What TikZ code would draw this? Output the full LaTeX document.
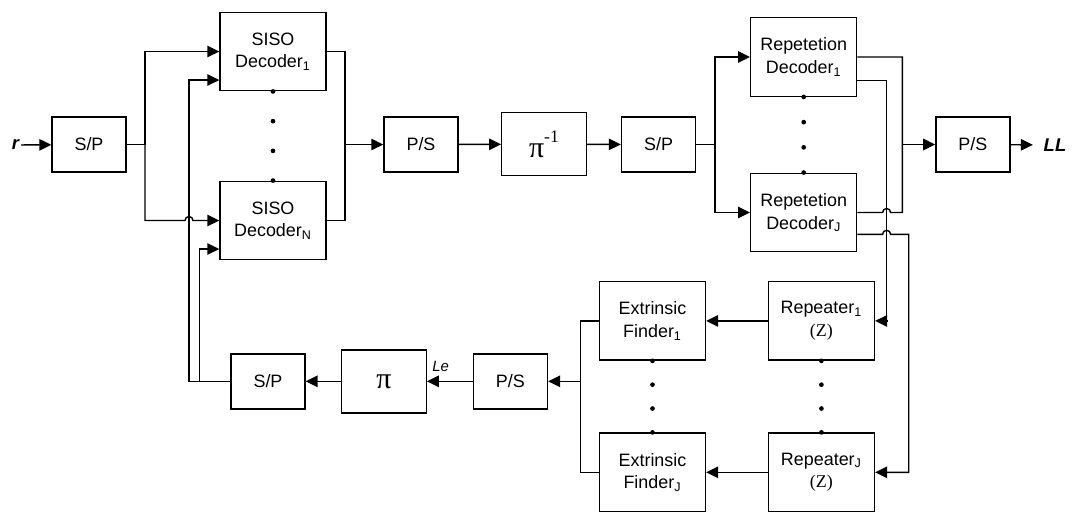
\documentclass[tikz,border=0pt]{standalone}
\usepackage{fontspec}
\setmainfont{Liberation Sans}
\newfontfamily\greekfont{Liberation Serif}
\usetikzlibrary{calc,arrows.meta}
\def\dotcol(#1)(#2){\foreach \t in {0,1/3,2/3,1} \fill ($(#1)!\t!(#2)$) circle (0.047cm);}

\tikzset{
	blk/.style={draw, line width=0.8pt, inner sep=0pt, align=center, font=\fontsize{10.2}{13}\selectfont},
	spbox/.style={blk, minimum width=1.48cm, minimum height=1.1cm},
	bigbox/.style={blk, minimum width=2.12cm, minimum height=1.57cm},
	pibox/.style={blk, minimum width=1.69cm, minimum height=1.26cm, font=\greekfont\fontsize{17}{17}\selectfont},
	wire/.style={line width=0.8pt},
	sig/.style={wire, -{Triangle[length=0.24cm,width=0.23cm]}},
}

\begin{document}
\begin{tikzpicture}[x=0.02cm, y=-0.02cm]
			%%%%% START %%%%%
			\useasboundingbox (0,0) rectangle (1075,512);
			
			\node[inner sep=1pt, font=\bfseries\itshape\fontsize{10.5}{12}\selectfont] (r) at (15.5,145) {r};
			\node[spbox] (spin) at (89,144.5) {S/P};
			\node[bigbox] (siso1) at (273,51.5) {SISO\\Decoder\textsubscript{1}};
			\node[bigbox] (sisoN) at (273,220.5) {SISO\\Decoder\textsubscript{N}};
			\node[spbox] (psa) at (421,144.5) {P/S};
			\node[pibox] (deint) at (544,144.2) {π\raisebox{1.05ex}{\fontsize{10}{10}\selectfont -1}};
			\node[spbox] (spb) at (658.5,144.5) {S/P};
			\node[bigbox] (rdec1) at (803.7,57) {Repetetion\\Decoder\textsubscript{1}};
			\node[bigbox] (rdecJ) at (803.7,212.5) {Repetetion\\Decoder\textsubscript{J}};
			\node[spbox] (psout) at (972.9,144.5) {P/S};
			\node[inner sep=6pt, font=\bfseries\itshape\fontsize{10.5}{12}\selectfont] (LL) at (1055,145) {LL};
			
			\node[bigbox] (rpt1) at (821.4,320.9) {Repeater\textsubscript{1}\\{\greekfont(Z)}};
			\node[bigbox] (rptJ) at (821.4,472.3) {Repeater\textsubscript{J}\\{\greekfont(Z)}};
			\node[bigbox] (ext1) at (652.5,320.9) {Extrinsic\\Finder\textsubscript{1}};
			\node[bigbox] (extJ) at (652.5,472.3) {Extrinsic\\Finder\textsubscript{J}};
			\node[spbox] (psb) at (510.4,381.3) {P/S};
			\node[pibox] (intl) at (384,381.3) {π};
			\node[spbox] (spfb) at (268,381.3) {S/P};
			\node[font=\itshape\fontsize{8.5}{10}\selectfont] (le) at (440.7,366) {Le};
			
			\coordinate (ja) at (145,144.5);
			\coordinate (jb) at (345,144.5);
			\coordinate (jc) at (715,144.5);
			\coordinate (jd) at (902.3,144.5);
			\coordinate (je) at (580.7,381.3);
			\coordinate (fba) at (189,381.3);
			\coordinate (fbb) at (199.5,381.3);
			\coordinate (va) at (886.6,0);
			\coordinate (vb) at (908.7,0);
			
			\dotcol(siso1.south)(sisoN.north)
			\dotcol(rdec1.south)(rdecJ.north)
			\dotcol(ext1.south)(extJ.north)
			\dotcol(rpt1.south)(rptJ.north)
			
			\draw[sig] (r) -- (spin);
			\draw[wire] (spin.east) -- (ja);
			\draw[sig] (ja) |- (siso1.west);
			\draw[sig] (ja) |- ($(fba |- sisoN.west)+(-4,0)$) arc (180:0:0.08cm) -- (sisoN.west);
			\draw[wire] (siso1.east) -| (jb) |- (sisoN.east);
			\draw[sig] (jb) -- (psa.west);
			\draw[sig] (psa) -- (deint);
			\draw[sig] (deint) -- (spb);
			\draw[wire] (spb.east) -- (jc);
			\draw[sig] (jc) |- (rdec1.west);
			\draw[sig] (jc) |- (rdecJ.west);
			
			\draw[wire] (rdec1.east) -| (jd) |- ($(va |- rdecJ.east)+(4,0)$) arc (0:180:0.08cm) -- (rdecJ.east);
			\draw[sig] (jd) -- (psout.west);
			\draw[sig] (psout) -- (LL);
			
			\draw[sig] ($(rdec1.east)+(0,23.7)$) -| (va |- rpt1.east) -- (rpt1.east);
			\draw[sig] ($(rdecJ.east)+(0,21.8)$) coordinate (o2) -- ($(va |- o2)+(-4,0)$) arc (180:0:0.08cm) -- (vb |- o2) |- (rptJ.east);
			
			\draw[sig] (rpt1) -- (ext1);
			\draw[sig] (rptJ) -- (extJ);
			\draw[wire] (ext1.west) -| (je) |- (extJ.west);
			\draw[sig] (je) -- (psb.east);
			\draw[sig] (psb) -- (intl);
			\draw[sig] (intl) -- (spfb);
			\draw[sig] (spfb.west) -- (fba) |- ($(siso1.west)+(0,28.5)$);
			\draw[sig] (fbb) |- ($(sisoN.west)+(0,28.5)$);
			
			%%%%% END %%%%%
\end{tikzpicture}
\end{document}
